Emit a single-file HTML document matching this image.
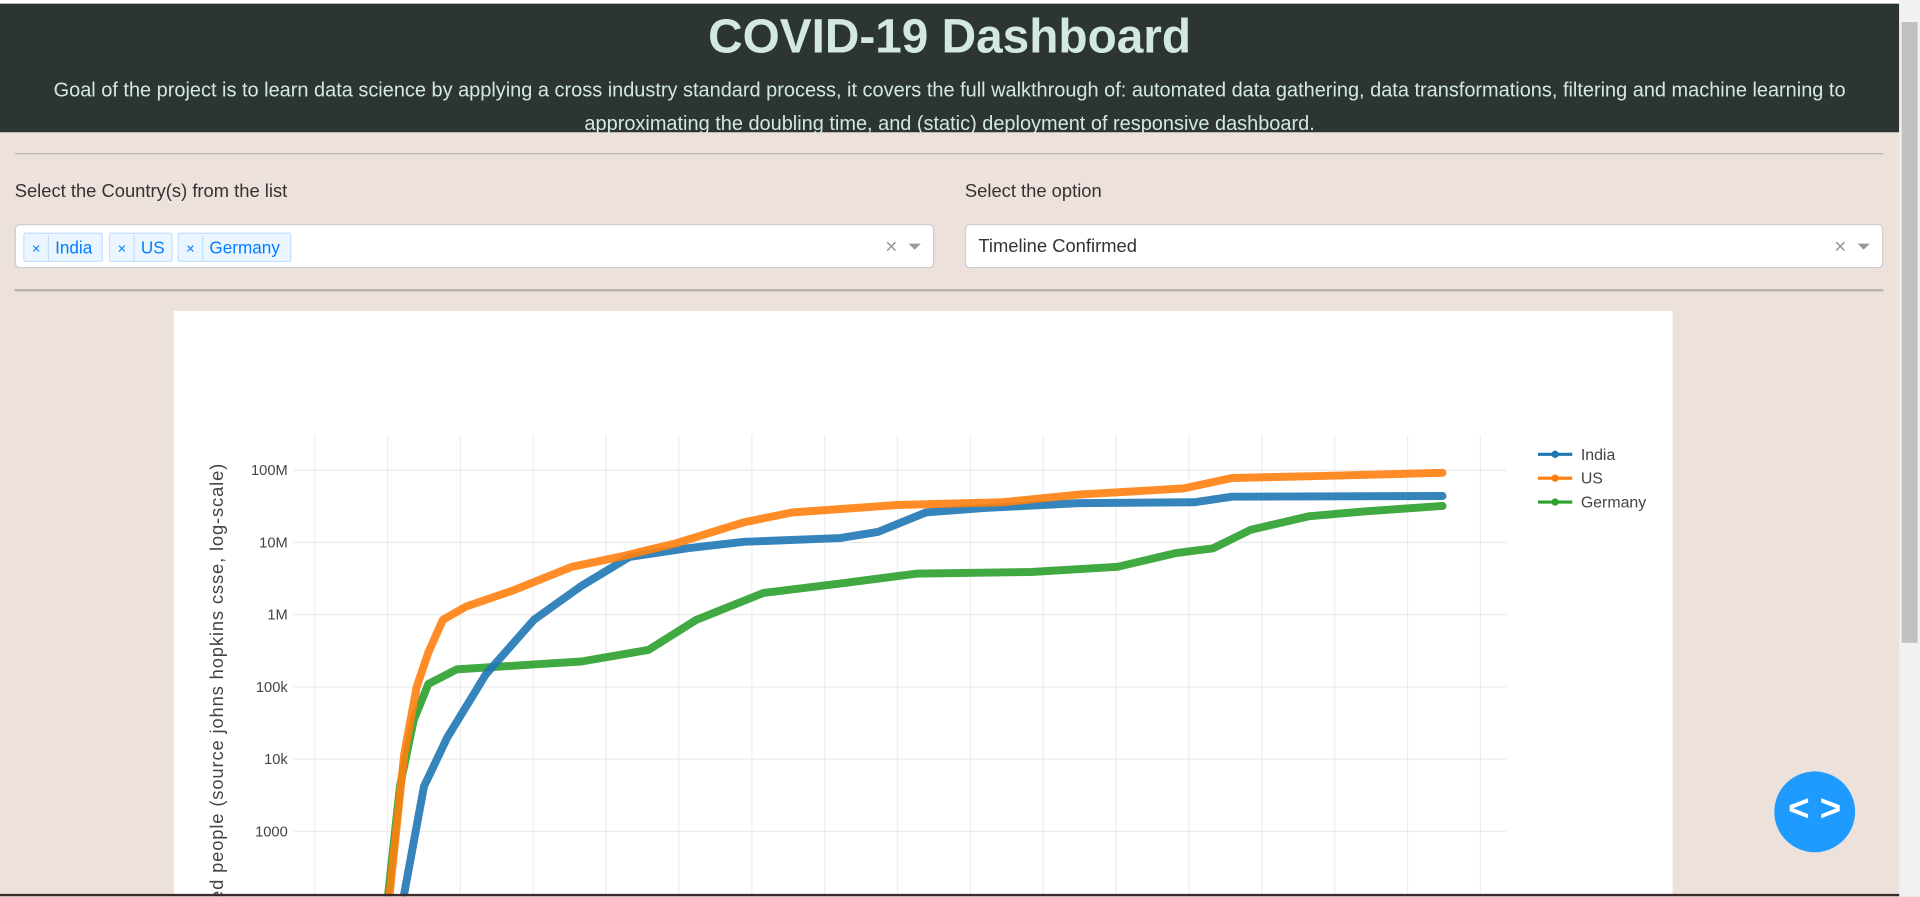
<!DOCTYPE html>
<html><head><meta charset="utf-8">
<style>
html,body{margin:0;padding:0;overflow:hidden;background:#ede1dc;width:1920px;height:897px;}
#root{position:absolute;left:0;top:0;width:1568px;height:732px;transform:scale(1.22449);transform-origin:0 0;background:#ede1dc;font-family:"Liberation Sans",sans-serif;overflow:hidden;}
.abs{position:absolute;}
#hdr{left:0;top:3px;width:1551px;height:105px;background:#2d3532;color:#d3e9e0;text-align:center;}
#title{position:absolute;left:0;width:100%;top:6px;font-size:39px;font-weight:bold;}
#sub{position:absolute;left:0;right:0;top:58px;font-size:16.3px;line-height:27px;white-space:nowrap;}
.hr{position:absolute;left:12px;width:1526px;background:#bcb3b0;}
.lbl{font-size:15px;color:#333;}
.dd{position:absolute;top:183px;height:36px;background:#fff;border:1px solid #ccc;border-radius:4px;box-sizing:border-box;}
.tag{position:absolute;top:6px;height:24px;box-sizing:border-box;background:#ebf5ff;border:1px solid #c2e0ff;border-radius:2px;color:#007eff;font-size:14px;line-height:22px;}
.tag span.x{display:inline-block;width:19px;text-align:center;border-right:1px solid #c2e0ff;font-size:12px;}
.tag span.t{padding:0 5px;}
.clr{position:absolute;top:8px;color:#999;font-size:17px;}
.arr{position:absolute;top:15px;width:0;height:0;border-left:5px solid transparent;border-right:5px solid transparent;border-top:5px solid #999;}
</style></head><body>
<div id="root">
<div class="abs" style="left:0;top:0;width:1551px;height:3px;background:#fff"></div>
<div id="hdr" class="abs">
 <div id="title">COVID-19 Dashboard</div>
 <div id="sub">Goal of the project is to learn data science by applying a cross industry standard process, it covers the full walkthrough of: automated data gathering, data transformations, filtering and machine learning to<br>approximating the doubling time, and (static) deployment of responsive dashboard.</div>
</div>
<div class="hr" style="top:125px;height:1px"></div>
<div class="abs lbl" style="left:12px;top:148px">Select the Country(s) from the list</div>
<div class="abs lbl" style="left:788px;top:148px">Select the option</div>
<div class="dd" style="left:12px;width:751px">
 <div class="tag" style="left:6px;width:65px"><span class="x">×</span><span class="t">India</span></div>
 <div class="tag" style="left:76px;width:52px"><span class="x">×</span><span class="t">US</span></div>
 <div class="tag" style="left:132px;width:93px"><span class="x">×</span><span class="t">Germany</span></div>
 <div class="clr" style="left:710px">×</div>
 <div class="arr" style="left:729px"></div>
</div>
<div class="dd" style="left:788px;width:750px">
 <div class="abs" style="left:10px;top:9px;font-size:15px;color:#333">Timeline Confirmed</div>
 <div class="clr" style="left:709px">×</div>
 <div class="arr" style="left:728px"></div>
</div>
<div class="hr" style="top:236px;height:2px"></div>
<svg class="abs" style="left:0;top:0" width="1568" height="732" id="chart"></svg>
<div class="abs" style="left:1449px;top:630px;width:66px;height:66px;border-radius:50%;background:#1f9bff;color:#fff;font-size:30px;font-weight:bold;text-align:center;line-height:62px">&lt; &gt;</div>
<div class="abs" style="left:1551px;top:0;width:17px;height:732px;background:#f1f1f1">
 <div class="abs" style="left:2px;top:18px;width:13px;height:507px;background:#c1c1c1"></div>
</div>
<div class="abs" style="left:0;top:730px;width:1551px;height:2px;background:#3a2a2a"></div>
</div>
<script>
const months = {
  India:[1.23,1.50,1.82,2.35,3.01,3.66,4.32,5.11,5.89,7.21,7.73,8.39,9.18,10.49,12.07,12.59,15.48],
  US:[1.03,1.23,1.40,1.56,1.76,2.08,2.74,3.53,4.18,4.97,5.89,6.55,7.99,9.44,10.49,11.93,12.59,13.76,15.48],
  Germany:[1.01,1.17,1.36,1.56,1.95,3.01,3.66,4.58,5.24,6.16,7.21,8.26,9.83,11.02,11.81,12.33,12.85,13.64,14.43,15.48]
};
const indiaValues=[140,4200,20000,150000,850000,2500000,6300000,8300000,10200000,11500000,14000000,26000000,30000000,35000000,36000000,43000000,44000000];
const usValues=[140,12000,100000,300000,850000,1300000,2200000,4600000,6300000,9800000,19000000,26000000,33000000,36000000,46000000,56000000,78000000,83000000,92000000];
const germanyValues=[140,4200,35000,110000,175000,205000,225000,325000,850000,2000000,2700000,3700000,3900000,4600000,7100000,8300000,15000000,23000000,27000000,32000000];
const yTickValues=[1000,10000,100000,1000000,10000000,100000000];
const yTickLabels=["1000","10k","100k","1M","10M","100M"];
const seriesNames=["India","US","Germany"];
const colors={India:"#1f77b4",US:"#ff7f0e",Germany:"#2ca02c"};
const NS="http://www.w3.org/2000/svg";
const svg=document.getElementById('chart');
const xS=m=>257+m*59.5;
const yS=v=>384+(8-Math.log10(v))*59;
function mk(t,a){const e=document.createElementNS(NS,t);for(const k in a)e.setAttribute(k,a[k]);svg.appendChild(e);return e;}
let r=mk('rect',{x:142,y:254,width:1224,height:478,fill:'#fff'});


for(let i=0;i<17;i++){let l=mk('line',{x1:xS(i),x2:xS(i),y1:355,y2:732,stroke:'#eee','stroke-width':1});

}
yTickValues.forEach((v,i)=>{let l=mk('line',{x1:240,x2:1230,y1:yS(v),y2:yS(v),stroke:'#eaeaea','stroke-width':1});


let t=mk('text',{x:235,y:yS(v)+4,'text-anchor':'end','font-size':12,fill:'#444','font-family':'Liberation Sans, sans-serif'});t.textContent=yTickLabels[i];

});
let yt=mk('text',{x:0,y:0,transform:'translate(182,378) rotate(-90)','text-anchor':'end','font-size':15,'letter-spacing':0.7,fill:'#444','font-family':'Liberation Sans, sans-serif'});
yt.textContent="Confirmed infected people (source johns hopkins csse, log-scale)";


const vals={India:indiaValues,US:usValues,Germany:germanyValues};
["Germany","India","US"].forEach(n=>{
 const pts=months[n].map((m,i)=>xS(m)+','+yS(vals[n][i])).join(' ');
 let p=mk('polyline',{points:pts,fill:'none',stroke:colors[n],'stroke-width':6.5,'stroke-linejoin':'round','stroke-linecap':'round',opacity:0.9});
 
 
});
seriesNames.forEach((n,i)=>{const y=371+i*19.5;
 let l=mk('line',{x1:1256,x2:1284,y1:y,y2:y,stroke:colors[n],'stroke-width':2.5});
 
 
 let c=mk('circle',{cx:1270,cy:y,r:3,fill:colors[n]});
 
 
 let t=mk('text',{x:1291,y:y+4.5,'font-size':13,fill:'#444','font-family':'Liberation Sans, sans-serif'});t.textContent=n;
 
 
});
</script>
</body></html>
